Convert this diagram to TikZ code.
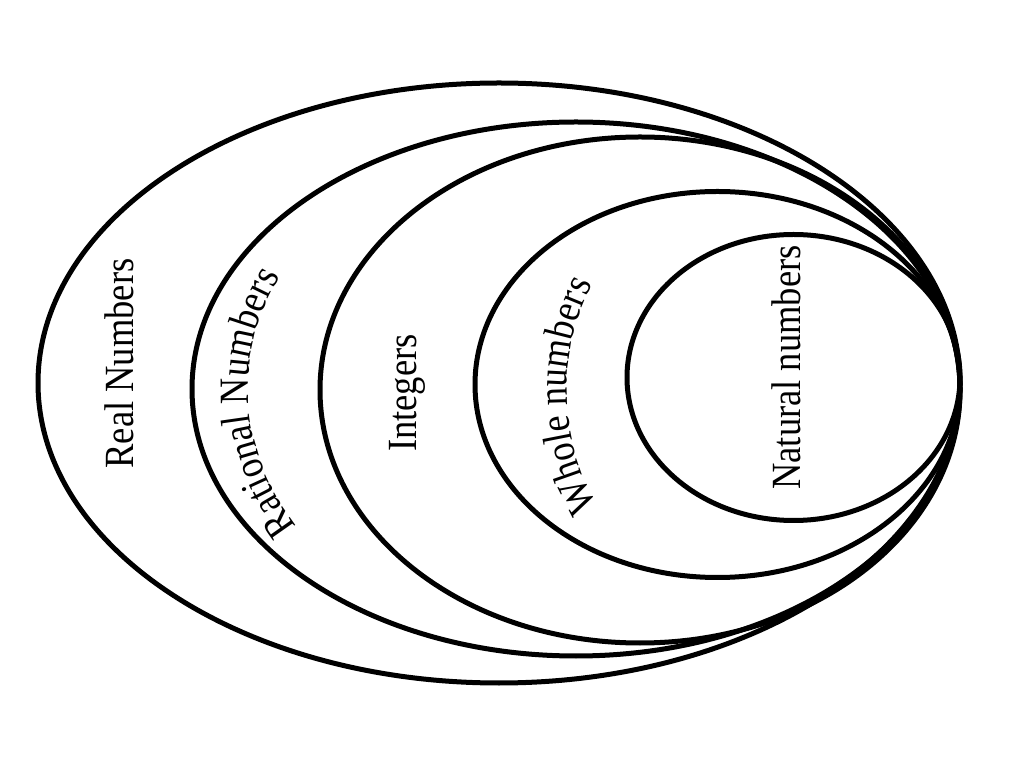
\documentclass[tikz,border=0pt]{standalone}
\usepackage{fontspec}
\newfontfamily\labfont[FakeStretch=0.88]{Liberation Serif}
\usetikzlibrary{decorations.text}
\begin{document}
\begin{tikzpicture}[x=1pt,y=1pt,
  setline/.style={draw=black, line width=5pt},
  setlabel/.style={rotate=90, anchor=base, inner sep=0pt, font=\labfont\fontsize{41.5}{50}\selectfont},
  arclabel/.style={decorate, decoration={text along path, text align=center, text={|\labfont\fontsize{41.5}{50}\selectfont|#1}}}]
\fill[white] (0,0) rectangle (1024,768);
\useasboundingbox (0,0) rectangle (1024,768);
% sets
\draw[setline] (499,385) ellipse [x radius=461pt, y radius=300pt];
\draw[setline] (576,379) ellipse [x radius=384pt, y radius=267pt];
\draw[setline] (640,378) ellipse [x radius=320pt, y radius=253pt];
\draw[setline] (717.5,383.5) ellipse [x radius=242.5pt, y radius=193pt];
\draw[setline] (793.5,390.5) ellipse [x radius=166.5pt, y radius=143pt];
% labels
\node[setlabel] (real) at (133,404.5) {Real Numbers};
\node[setlabel] (int) at (416.5,375) {Integers};
\node[setlabel] (nat) at (800,400.5) {Natural numbers};
\path[arclabel={Rational Numbers}] (576,379) ++(216:328pt and 261pt) arc[start angle=216, end angle=150, x radius=328pt, y radius=261pt];
\path[arclabel={Whole numbers}] (717,378) ++(222:150pt and 190pt) arc[start angle=222, end angle=142, x radius=150pt, y radius=190pt];
\end{tikzpicture}
\end{document}
